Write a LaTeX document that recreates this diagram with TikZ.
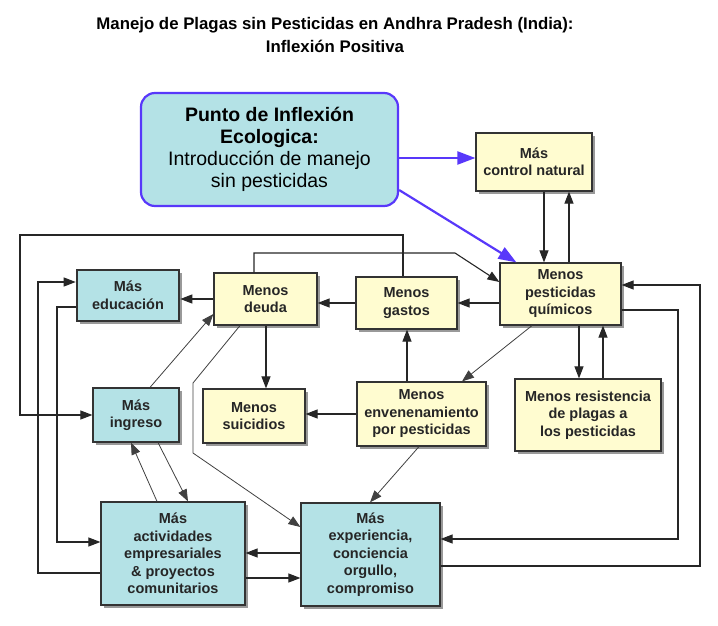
\documentclass[tikz,border=0pt]{standalone}
\usepackage{fontspec}
\setmainfont{Liberation Sans}
\usetikzlibrary{arrows.meta,shadows}

\definecolor{paleyellow}{RGB}{255,252,208}
\definecolor{palecyan}{RGB}{180,226,230}
\definecolor{inflexblue}{RGB}{88,56,250}

\newcommand\boxfont{\fontsize{14.5}{17.5}\selectfont\bfseries}

\tikzset{
  box/.style={draw=black!80, line width=1.2pt, align=center, inner sep=0pt,
    font=\boxfont, text=black!85,
    drop shadow={shadow xshift=3pt, shadow yshift=-3pt, fill=black!40, opacity=1}},
  yellowbox/.style={box, fill=paleyellow},
  cyanbox/.style={box, fill=palecyan},
  link/.style={draw=black!85, line width=1.1pt, -{Triangle[length=12pt,width=9pt]}},
  thinlink/.style={link, draw=black!75, line width=0.8pt},
  bluelink/.style={draw=inflexblue, line width=2.2pt, -{Triangle[length=18pt,width=13pt]}}
}

\begin{document}
\begin{tikzpicture}[x=1pt,y=-1pt]
\useasboundingbox (0,0) rectangle (718,626);

\node[align=center, font=\fontsize{16.8}{23}\selectfont\bfseries] (title) at (335,35)
  {Manejo de Plagas sin Pesticidas en Andhra Pradesh (India):\\Inflexión Positiva};

% punto de inflexion
\node[draw=inflexblue, line width=2.2pt, fill=palecyan, rounded corners=14pt,
  minimum width=257pt, minimum height=113pt, align=center, inner sep=0pt,
  font=\fontsize{19.5}{22}\selectfont] (punto) at (269.5,149.5)
  {\textbf{Punto de Inflexión}\\\textbf{Ecologica:}\\Introducción de manejo\\sin pesticidas};

% yellow boxes
\node[yellowbox, minimum width=116pt, minimum height=58pt] (control) at (534,162) {Más\\control natural};
\node[yellowbox, minimum width=121pt, minimum height=62pt] (pest) at (560.5,294) {Menos\\pesticidas\\químicos};
\node[yellowbox, minimum width=101pt, minimum height=52pt] (gastos) at (406.5,303) {Menos\\gastos};
\node[yellowbox, minimum width=103pt, minimum height=52pt] (deuda) at (265.5,299) {Menos\\deuda};
\node[yellowbox, minimum width=102pt, minimum height=54pt] (suic) at (254,416) {Menos\\suicidios};
\node[yellowbox, minimum width=129pt, minimum height=64pt] (enven) at (421.5,414) {Menos\\envenenamiento\\por pesticidas};
\node[yellowbox, minimum width=146pt, minimum height=72pt] (resist) at (588,415) {Menos resistencia\\de plagas a\\los pesticidas};

% cyan boxes
\node[cyanbox, line width=2.6pt, minimum width=102pt, minimum height=51pt] (educ) at (128,295.5) {Más\\educación};
\node[cyanbox, minimum width=86pt, minimum height=54pt] (ingreso) at (136,415) {Más\\ingreso};
\node[cyanbox, minimum width=144pt, minimum height=103pt] (activ) at (173,553.5) {Más\\actividades\\empresariales\\\& proyectos\\comunitarios};
\node[cyanbox, minimum width=139pt, minimum height=103pt] (exper) at (370.5,554.5) {Más\\experiencia,\\conciencia\\orgullo,\\compromiso};

% blue arrows
\path[bluelink] (punto.east |- 0,158) -- (control.west |- 0,158);
\path[bluelink] (punto.east |- 0,190) -- ([xshift=17pt]pest.north west);

% control natural and pesticidas
\path[link] (control.south -| 544,0) -- (pest.north -| 544,0);
\path[link] (pest.north -| 569,0) -- (control.south -| 569,0);

% chain to the left
\path[link] (gastos.east -| pest.west) -- (gastos.east);
\path[link] (gastos.west) -- (gastos.west -| deuda.east);
\path[link] (deuda.west) -- (deuda.west -| educ.east);

% loops over the top
\path[link] (gastos.north -| 403,0) |- (20,235) |- (ingreso.west);
\path[link] (deuda.north -| 254,0) |- (455,253) -- (pest.west |- 0,282);

% middle
\path[link] (deuda.south -| 266,0) -- (suic.north -| 266,0);
\path[link] (enven.west) -- (enven.west -| suic.east);
\path[link] (enven.north -| 407,0) -- (gastos.south -| 407,0);
\path[thinlink] (pest.south -| 532,0) -- (enven.north -| 462,0);
\path[thinlink] (enven.south -| 419,0) -- (exper.north -| 370,0);
\path[thinlink] (ingreso.north -| 150,0) -- (deuda.west |- 0,314);
\path[thinlink] (deuda.south -| 240,0) -- (193,383) -- (193,453) -- (exper.west |- 0,527);

% resistencia
\path[link] (pest.south -| 579,0) -- (resist.north -| 579,0);
\path[link] (resist.north -| 603,0) -- (pest.south -| 603,0);

% loops on the right
\path[link] (pest.east |- 0,310) -| (678,539) -- (exper.east |- 0,539);
\path[link] (exper.east |- 0,566) -| (700,285) -- (pest.east |- 0,285);

% bottom
\path[link] (exper.west |- 0,553) -- (activ.east |- 0,553);
\path[link] (activ.east |- 0,578) -- (exper.west |- 0,578);
\path[thinlink] (activ.north -| 157,0) -- (ingreso.south -| 131,0);
\path[thinlink] (ingreso.south -| 158,0) -- (activ.north -| 188,0);

% loops on the left
\path[link] (educ.west |- 0,307) -| (57,542) -- (activ.west |- 0,542);
\path[link] (activ.west |- 0,573) -| (38,282) -- (educ.west |- 0,282);
\end{tikzpicture}
\end{document}
